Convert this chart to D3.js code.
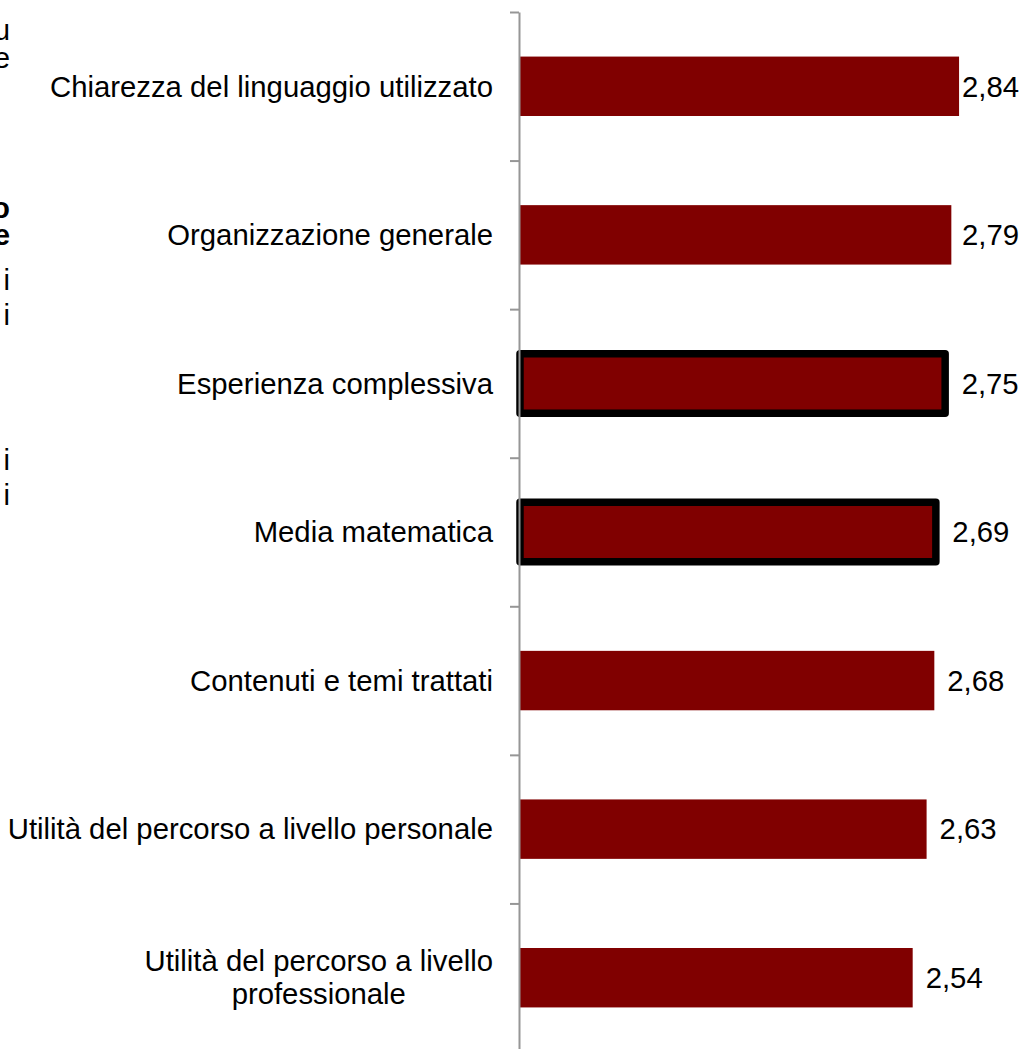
<!DOCTYPE html>
<html>
<head>
<meta charset="utf-8">
<script src="https://cdn.jsdelivr.net/npm/d3@7"></script>
<style>
  body { margin: 0; background: #fff; }
  text { font-family: "Liberation Sans", Arial, sans-serif; fill: #000; }
</style>
</head>
<body>
<script>
// categories, top to bottom
var categories = [
  "Chiarezza del linguaggio utilizzato",
  "Organizzazione generale",
  "Esperienza complessiva",
  "Media matematica",
  "Contenuti e temi trattati",
  "Utilità del percorso a livello personale",
  "Utilità del percorso a livello professionale"
];
var values = [2.84, 2.79, 2.75, 2.69, 2.68, 2.63, 2.54];
var valueLabels = ["2,84", "2,79", "2,75", "2,69", "2,68", "2,63", "2,54"];
// bars drawn with a heavy black border
var highlighted = ["Esperienza complessiva", "Media matematica"];

// cut-off text from the slide on the left
var sideLetters = ["u", "e", "o", "e", "i", "i", "i", "i"];
var sideBold = [false, false, true, true, false, false, false, false];
var sideRows = [40, 68, 218, 245, 290, 325, 470, 505];

var width = 1023, height = 1049;
var fontSize = 29.3;

var svg = d3.select("body").append("svg")
    .attr("width", width)
    .attr("height", height);

// set the ranges
var x = d3.scaleLinear().domain([0, 3]).range([520, 983.8]);
var y = d3.scaleBand().domain(categories).range([12, 1052])
    .paddingInner(0.6).paddingOuter(0.3);
var slot = d3.scaleLinear().domain([0, categories.length]).range([12, 1052]);

// left text fragments
svg.selectAll(".side")
  .data(sideLetters)
  .enter().append("text")
  .attr("class", "side")
  .attr("x", 10)
  .attr("y", function(d, i) { return sideRows[i]; })
  .attr("text-anchor", "end")
  .style("font-size", fontSize + "px")
  .style("font-weight", function(d, i) { return sideBold[i] ? "bold" : "normal"; })
  .text(function(d) { return d; });

// bars
svg.selectAll(".bar")
  .data(categories)
  .enter().append("rect")
  .attr("class", "bar")
  .attr("x", x(0))
  .attr("y", function(d) { return y(d); })
  .attr("width", function(d, i) { return x(values[i]) - x(0); })
  .attr("height", y.bandwidth())
  .style("fill", "#800000")
  .style("stroke", function(d) { return highlighted.indexOf(d) >= 0 ? "#000" : "none"; })
  .style("stroke-width", 7.5)
  .style("stroke-linejoin", "round");

// vertical axis with ticks between categories
var axis = svg.append("g")
    .attr("transform", "translate(519,0)")
    .call(d3.axisLeft(slot)
      .tickValues(d3.range(categories.length + 1))
      .tickSize(9)
      .tickSizeOuter(0)
      .tickFormat(""));
axis.select(".domain").attr("stroke", "#969696").attr("stroke-width", 2);
axis.selectAll(".tick line").attr("stroke", "#969696").attr("stroke-width", 2);

// category labels
var labelRight = 493;
categories.forEach(function(c) {
  var cy = y(c) + y.bandwidth() / 2;
  if (c === "Utilità del percorso a livello professionale") {
    var t1 = svg.append("text")
      .attr("y", cy - 16.5)
      .attr("dy", "0.35em")
      .attr("text-anchor", "middle")
      .style("font-size", fontSize + "px")
      .text("Utilità del percorso a livello");
    var w = t1.node().getComputedTextLength();
    t1.attr("x", labelRight - w / 2);
    svg.append("text")
      .attr("x", labelRight - w / 2)
      .attr("y", cy + 16.5)
      .attr("dy", "0.35em")
      .attr("text-anchor", "middle")
      .style("font-size", fontSize + "px")
      .text("professionale");
  } else {
    svg.append("text")
      .attr("x", labelRight)
      .attr("y", cy)
      .attr("dy", "0.35em")
      .attr("text-anchor", "end")
      .style("font-size", fontSize + "px")
      .text(c);
  }
});

// value labels
svg.selectAll(".val")
  .data(categories)
  .enter().append("text")
  .attr("class", "val")
  .attr("y", function(d) { return y(d) + y.bandwidth() / 2; })
  .attr("dy", "0.35em")
  .style("font-size", fontSize + "px")
  .text(function(d, i) { return valueLabels[i]; })
  .attr("x", function(d, i) {
    var w = this.getComputedTextLength();
    var extra = highlighted.indexOf(d) >= 0 ? 3.5 : 0;
    return Math.min(x(values[i]) + 13 + extra, width - 4 - w);
  });
</script>
</body>
</html>
